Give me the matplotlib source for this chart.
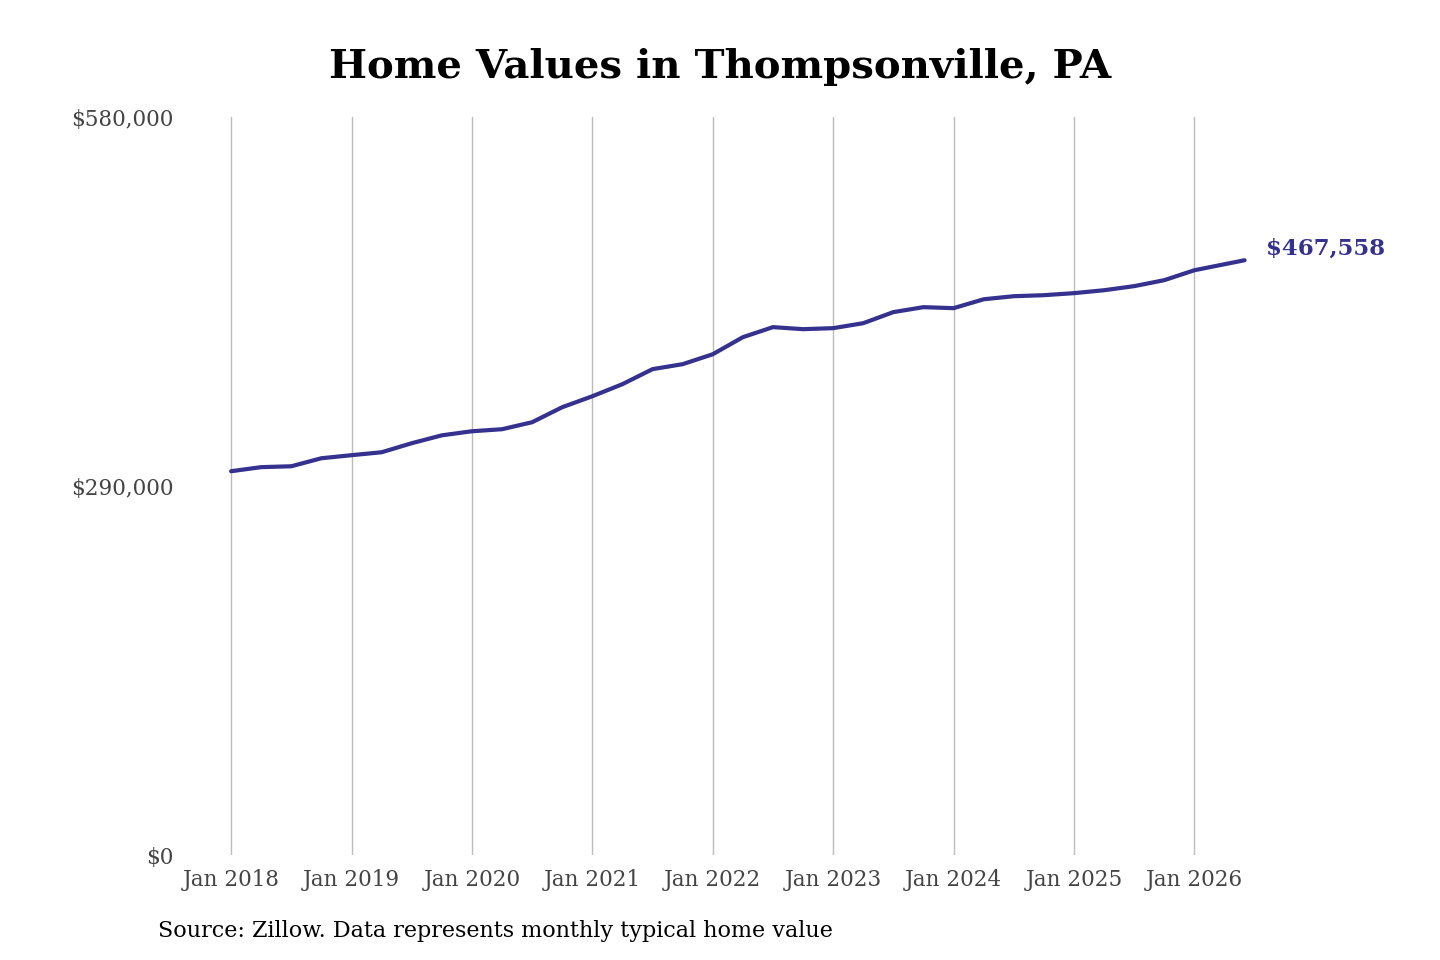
import matplotlib
matplotlib.use("Agg")
import matplotlib.pyplot as plt
import numpy as np

dates = [2018+i/4 for i in range(33)] + [2026+5/12]
values = [301800,305000,305700,312000,314400,316700,323800,330000,333200,334800,340300,352100,
          360700,370200,382000,385900,393700,407100,415000,413400,414200,418100,426800,430700,
          429900,436900,439300,440100,441700,444000,447200,451900,459700,467558]
xticks = list(range(2018, 2027))
xlabels = [f"Jan {y}" for y in xticks]
yticks = [0, 290000, 580000]
ylabels = ["$0", "$290,000", "$580,000"]

plt.rcParams['font.family'] = ['DejaVu Serif']
fig = plt.figure(figsize=(14.4, 9.6), dpi=100)
ax = fig.add_axes([0.1396, 0.109, 0.740, 0.769])
ax.plot(dates, values, color="#34318f", lw=3, solid_capstyle="round", solid_joinstyle="round")
ax.set_xlim(2017.75, 2026.6)
ax.set_ylim(0, 580000)
ax.set_xticks(xticks)
ax.set_xticklabels(xlabels, fontsize=15.5, color="#444444")
ax.set_yticks(yticks)
ax.set_yticklabels(ylabels, fontsize=15.5, color="#444444")
ax.tick_params(axis='x', length=0, pad=10)
ax.tick_params(axis='y', length=0, pad=20)
for s in ax.spines.values():
    s.set_visible(False)
ax.grid(axis='x', color="#bbbbbb", lw=1)
ax.text(dates[-1] + 0.18, values[-1], "$467,558", fontsize=16.5, fontweight="bold",
        color="#34318f", va="bottom")
fig.text(0.5, 0.93, "Home Values in Thompsonville, PA", ha="center", va="center",
         fontsize=29, fontweight="bold")
fig.text(0.11, 0.03, "Source: Zillow. Data represents monthly typical home value",
         fontsize=16, va="center")
fig.savefig("out.png", dpi=100)
